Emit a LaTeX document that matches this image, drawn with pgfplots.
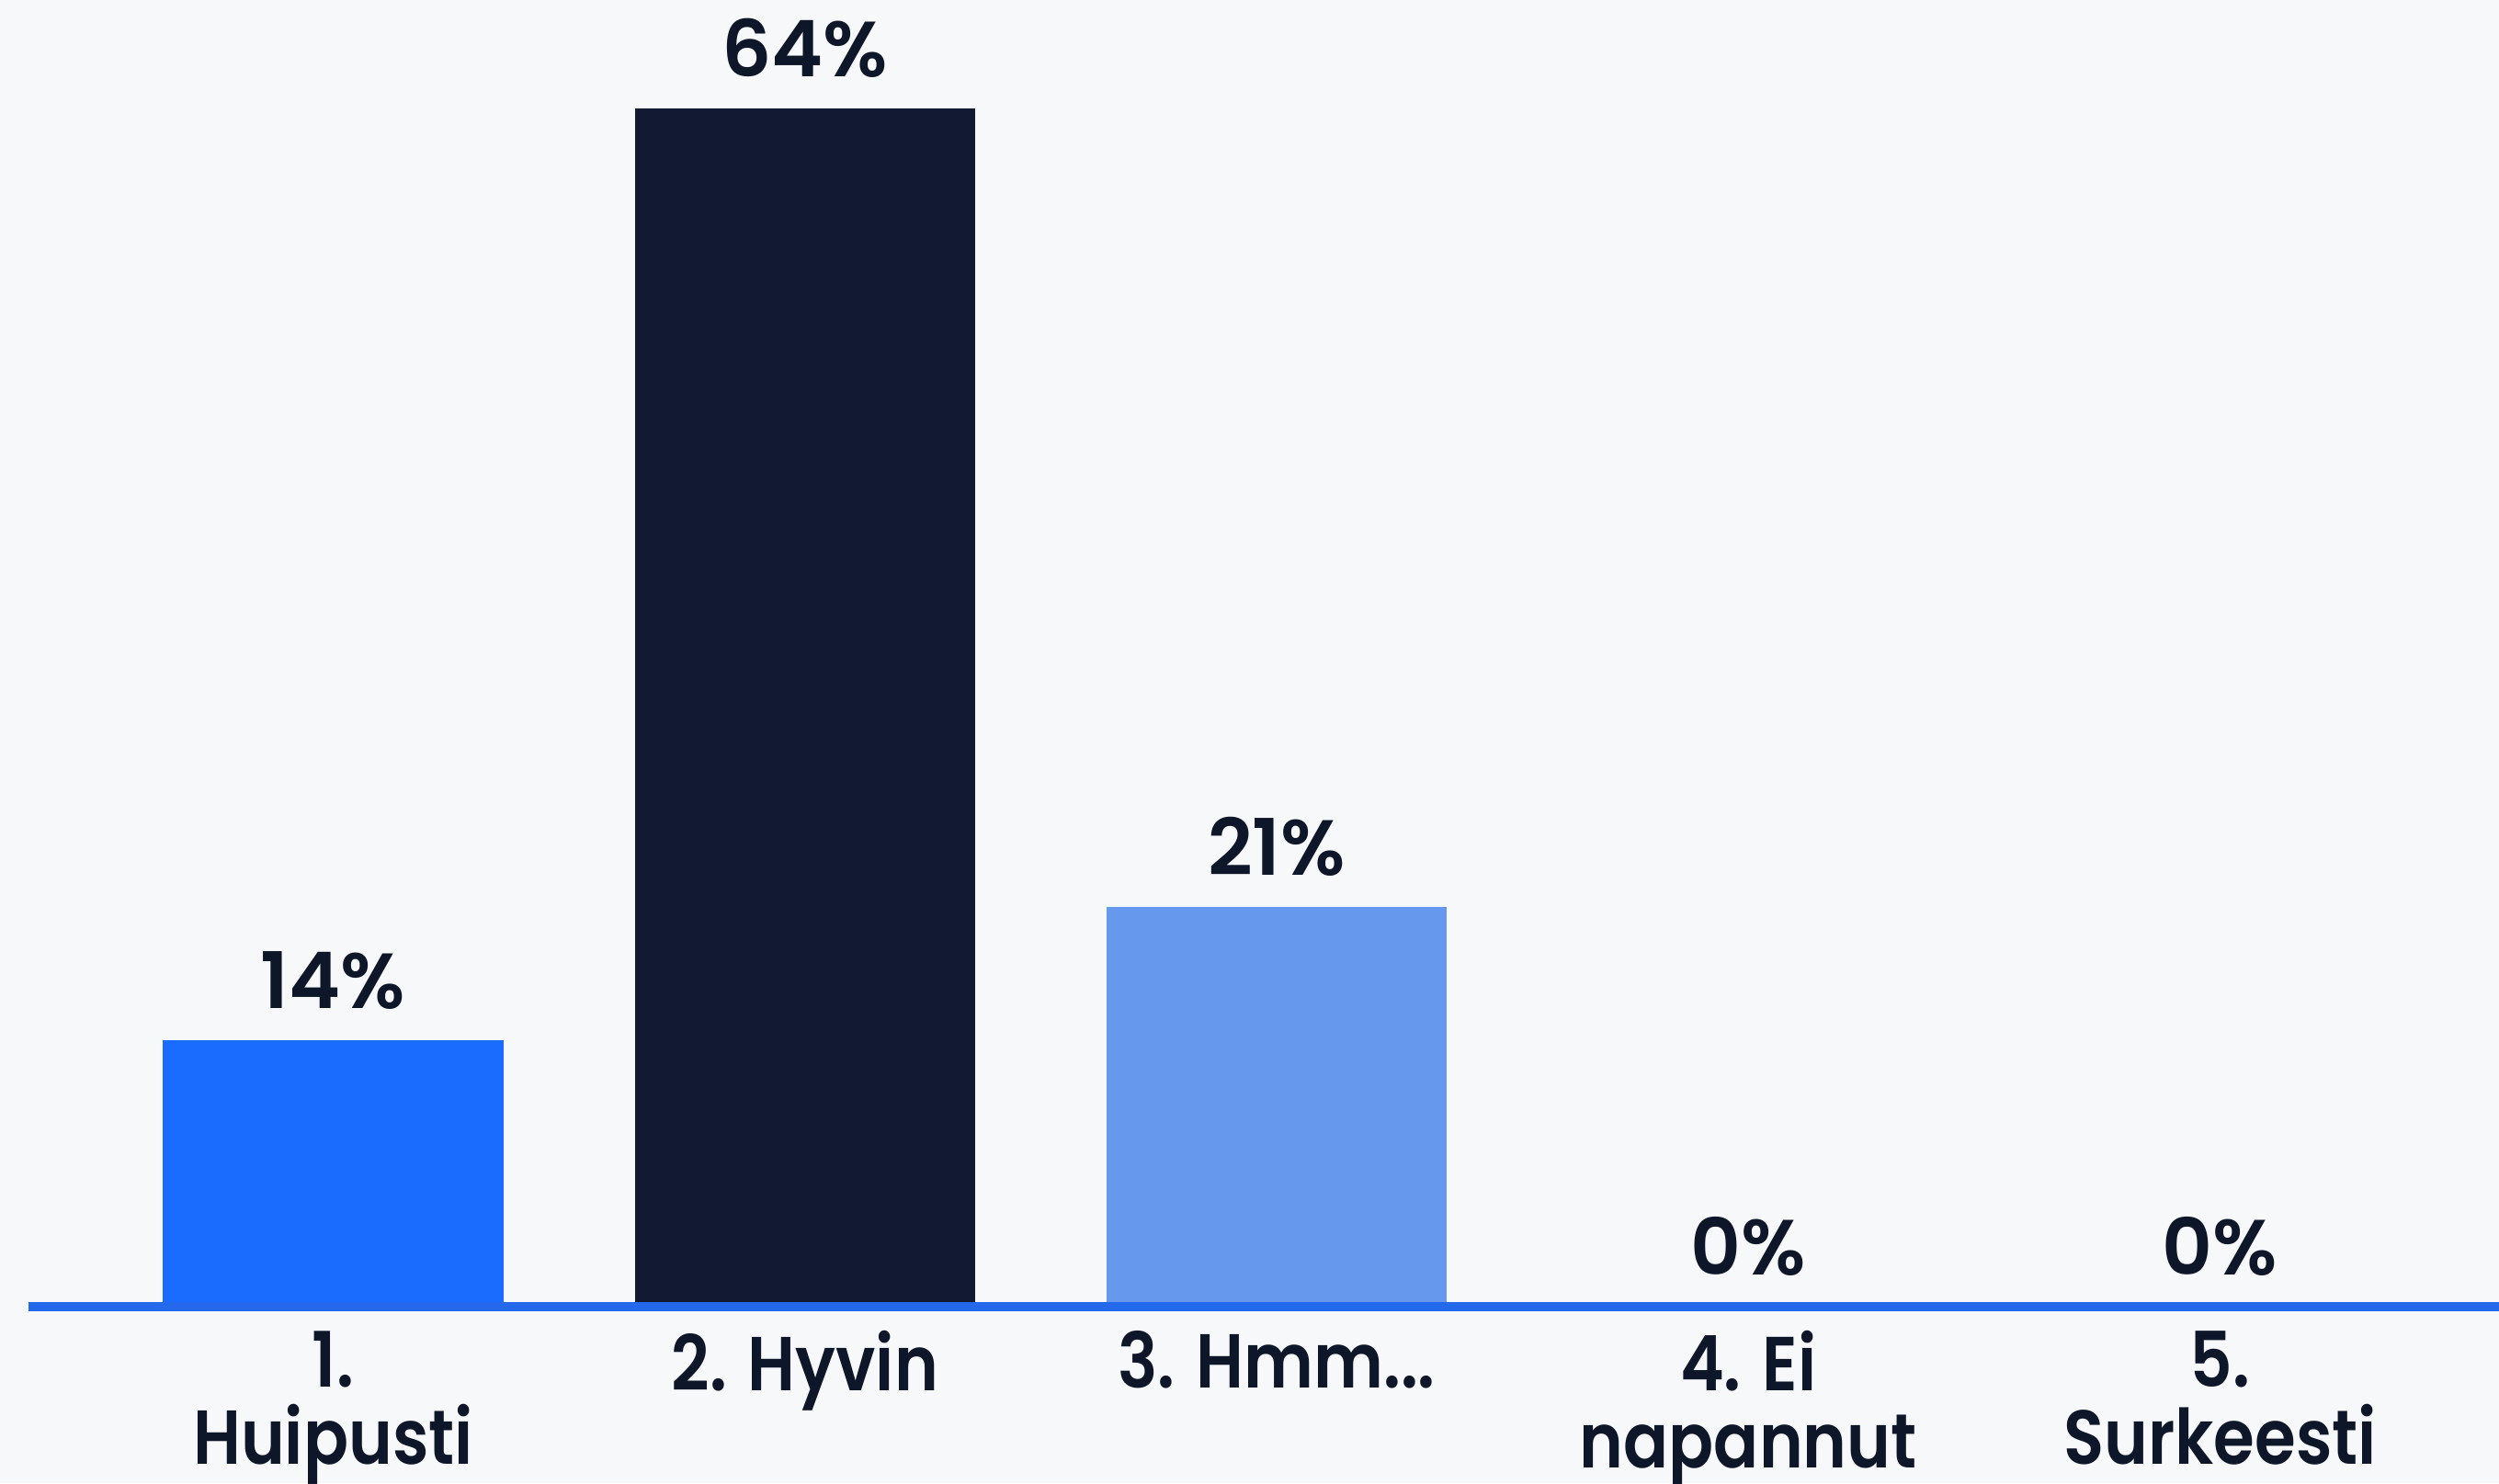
\documentclass[border=0pt]{standalone}
\usepackage{fontspec}
\setmainfont{Poppins}[UprightFont={* SemiBold}]
\newfontfamily\tickfam{Poppins}[UprightFont={* SemiBold}, FakeStretch=0.87]
\usepackage{pgfplots}
\pgfplotsset{compat=1.18}
\definecolor{bg}{HTML}{F7F8FA}
\definecolor{c1}{HTML}{1A6BFF}
\definecolor{c2}{HTML}{121933}
\definecolor{c3}{HTML}{6699EE}
\definecolor{linec}{HTML}{2468EC}
\definecolor{txt}{HTML}{0E1629}
\newcommand{\lblfont}{\fontsize{24.5bp}{25.5bp}\selectfont}
\newcommand{\tickfont}{\tickfam\fontsize{24bp}{24.2bp}\selectfont}
\protected\def\hmm{3. Hmm...}
\begin{document}
\begin{tikzpicture}
\fill[bg] (0,-55.5bp) rectangle (784bp,410bp);
\begin{axis}[
  at={(0,0)}, anchor=south west,
  scale only axis, width=784bp, height=410bp,
  xmin=-0.7061, xmax=4.5912, ymin=0, ymax=70.10,
  axis x line=bottom, axis y line=none,
  x axis line style={draw=none},
  major tick length=0pt,
  xtick style={draw=none},
  ybar, bar width=0.7213, bar shift=0pt,
  xtick={0,1,2,3,4},
  xticklabels={{1.\\Huipusti},{2. Hyvin},{\hmm},{4. Ei\\napannut},{5.\\Surkeesti}},
  xticklabel style={align=center, font=\tickfont, text=txt, inner sep=0pt, anchor=north, yshift=-7.5bp},
  nodes near coords={\pgfmathprintnumber[fixed,precision=0,assume math mode=true]{\pgfplotspointmeta}\%},
  every node near coord/.append style={font=\lblfont, text=txt, inner sep=0pt, anchor=south, yshift=9.5bp},
  clip=false,
]
\addplot[fill=c1, draw=none] coordinates {(0,14.2857)};
\addplot[fill=c2, draw=none] coordinates {(1,64.2857)};
\addplot[fill=c3, draw=none] coordinates {(2,21.4286)};
\addplot[fill=c1, draw=none] coordinates {(3,0)};
\addplot[fill=c1, draw=none] coordinates {(4,0)};
\draw[linec, line width=2.9bp] (axis cs:-0.6453,0) -- (axis cs:4.5912,0);
\end{axis}
\pgfresetboundingbox
\path (0,-55.5bp) rectangle (784bp,410bp);
\end{tikzpicture}
\end{document}
